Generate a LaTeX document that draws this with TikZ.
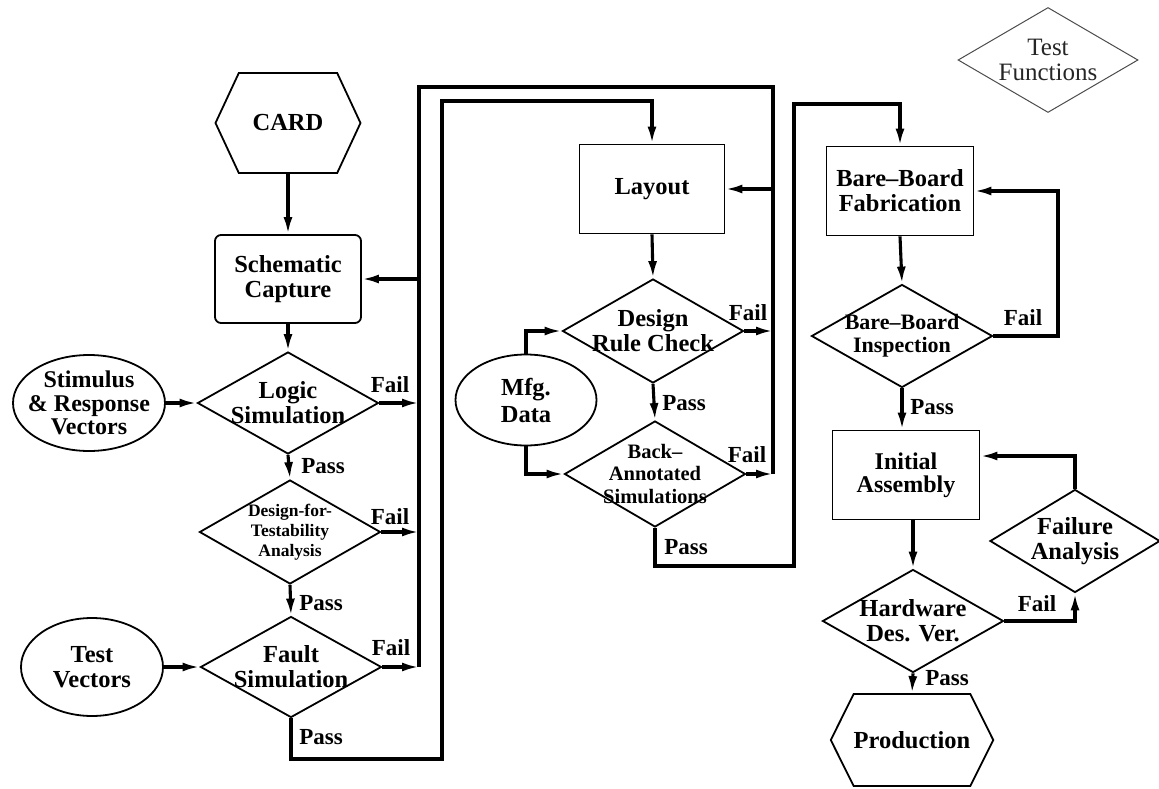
\documentclass[tikz,border=0pt]{standalone}
\usepackage{fontspec}
\setmainfont{Liberation Serif}
\usetikzlibrary{arrows.meta,shapes.geometric,shapes.symbols}

\newcommand\mainsz{\fontsize{24.5}{25}\selectfont\bfseries}
\newcommand\labsz{\fontsize{23}{23}\selectfont\bfseries}

\tikzset{
  shp/.style={draw, line width=1.8pt, inner sep=0pt},
  intext/.style={label={[font=\mainsz, align=center]center:#1}},
  dia/.style={shp, diamond},
  ell/.style={shp, ellipse},
  rbox/.style={shp, rectangle, align=center, font=\mainsz},
  sig/.style={shp, signal, signal to=east and west, font=\mainsz},
  conn/.style={line width=3.1pt, -{Latex[length=17pt,width=9pt]}},
  wire/.style={line width=3.1pt},
  lab/.style={font=\labsz, inner sep=0pt}
}

\begin{document}
\begin{tikzpicture}[x=1pt, y=-1pt]
\useasboundingbox (0,0) rectangle (1159,789);

% ---- schematic design column ----
\node[sig, signal pointer angle=130, minimum width=145pt, minimum height=100pt] (card) at (288,123) {CARD};
\node[rbox, rounded corners=6pt, minimum width=146pt, minimum height=88pt] (sch) at (288,279) {Schematic\\Capture};
\node[dia, minimum width=181pt, minimum height=102pt, intext={Logic\\Simulation}] (logic) at (288,403) {};
\node[dia, minimum width=181pt, minimum height=104pt,
      label={[font=\fontsize{17.5}{20}\selectfont\bfseries, align=center]center:Design-for-\\Testability\\Analysis}] (dft) at (290,532) {};
\node[dia, minimum width=181pt, minimum height=101pt, intext={Fault\\Simulation}] (fault) at (291,667) {};
\node[ell, minimum width=152pt, minimum height=96pt,
      label={[font=\fontsize{24}{23.5}\selectfont\bfseries, align=center]center:Stimulus\\\& Response\\Vectors}] (stim) at (89,403) {};
\node[ell, minimum width=142pt, minimum height=98pt, intext={Test\\Vectors}] (tvec) at (92,667) {};

% ---- layout column ----
\node[rbox, minimum width=145pt, minimum height=89pt] (layout) at (652,189) {Layout};
\node[dia, minimum width=181pt, minimum height=104pt, intext={Design\\Rule Check}] (drc) at (653,331) {};
\node[dia, minimum width=181pt, minimum height=106pt,
      label={[font=\fontsize{20.5}{22.5}\selectfont\bfseries, align=center]center:Back--\\Annotated\\Simulations}] (ba) at (655,474) {};
\node[ell, minimum width=141pt, minimum height=91pt,
      label={[font=\fontsize{24.5}{27}\selectfont\bfseries, align=center]center:Mfg.\\Data}] (mfg) at (526,400) {};

% ---- board column ----
\node[rbox, minimum width=147pt, minimum height=89pt] (bbf) at (900,191) {Bare--Board\\Fabrication};
\node[dia, minimum width=181pt, minimum height=103pt,
      label={[font=\fontsize{22}{23}\selectfont\bfseries, align=center]center:Bare--Board\\Inspection}] (bbi) at (902,336) {};
\node[rbox, minimum width=147pt, minimum height=89pt, font=\fontsize{24}{23}\selectfont\bfseries] (ia) at (906,475) {Initial\\Assembly};
\node[dia, minimum width=181pt, minimum height=103pt, intext={Hardware\\Des. Ver.}] (hdv) at (913,621) {};
\node[dia, minimum width=170pt, minimum height=103pt, intext={Failure\\Analysis}] (fa) at (1075,541) {};
\node[sig, signal pointer angle=127, minimum width=146pt, minimum height=92pt] (prod) at (912,740) {Production};

% ---- legend ----
\node[dia, draw=black!70, line width=1pt, minimum width=180pt, minimum height=105pt,
      label={[font=\fontsize{25}{25}\selectfont, text=black!85, align=center]center:Test\\Functions}] (tf) at (1048,60) {};

% ---- bus and loop corners ----
\coordinate (busW) at (419,87);
\coordinate (busE) at (773,87);
\coordinate (p1) at (442,759);
\coordinate (p2) at (442,101);
\coordinate (q1) at (794,566);
\coordinate (q2) at (794,104);
\coordinate (r1) at (1058,0);
\coordinate (s1) at (0,456);

% ---- schematic flow ----
\draw[conn] (card.south) -- (sch.north);
\draw[conn] (sch.south) -- (logic.north);
\draw[conn] (stim.east) -- (logic.west);
\draw[conn] (logic.south) -- (dft.north);
\draw[conn] (dft.south) -- (fault.north);
\draw[conn] (tvec.east) -- (fault.west);
\draw[conn] (logic.east) -- (logic.east -| busW);
\draw[conn] (dft.east) -- (dft.east -| busW);
\draw[conn] (fault.east) -- (fault.east -| busW);

% fail bus back to schematic capture and layout
\draw[wire] (fault.east -| busW) -- (busW) -- (busE) -- (ba.east -| busE);
\draw[conn] (sch.east -| busW) -- (sch.east);
\draw[conn] (layout.east -| busE) -- (layout.east);

% fault simulation pass to layout
\draw[conn] (fault.south) -- (fault.south |- p1) -- (p1) -- (p2) -- (p2 -| layout.north) -- (layout.north);

% ---- layout flow ----
\draw[conn] (layout.south) -- (drc.north);
\draw[conn] (drc.south) -- (ba.north);
\draw[conn] (mfg.north) -- (mfg.north |- drc.west) -- (drc.west);
\draw[conn] (mfg.south) -- (mfg.south |- ba.west) -- (ba.west);
\draw[conn] (drc.east) -- (drc.east -| busE);
\draw[conn] (ba.east) -- (ba.east -| busE);
\draw[conn] (ba.south) -- (ba.south |- q1) -- (q1) -- (q2) -- (q2 -| bbf.north) -- (bbf.north);

% ---- board flow ----
\draw[conn] (bbf.south) -- (bbi.north);
\draw[conn] (bbi.east) -- (bbi.east -| r1) -- (r1 |- bbf.east) -- (bbf.east);
\draw[conn] (bbi.south) -- (bbi.south |- ia.north);
\draw[conn] (hdv.north |- ia.south) -- (hdv.north);
\draw[conn] (hdv.east) -- (hdv.east -| fa.south) -- (fa.south);
\draw[conn] (fa.north) -- (fa.north |- s1) -- (ia.east |- s1);
\draw[conn] (hdv.south) -- (prod.north);

% ---- pass / fail labels ----
\node[lab] (lf1) at (390,385) {Fail};
\node[lab] (lp1) at (323,466) {Pass};
\node[lab] (lf2) at (390,517) {Fail};
\node[lab] (lp2) at (321,603) {Pass};
\node[lab] (lf3) at (391,648) {Fail};
\node[lab] (lp3) at (321,737) {Pass};
\node[lab] (lf4) at (748,313) {Fail};
\node[lab] (lp4) at (684,403) {Pass};
\node[lab] (lf5) at (747,455) {Fail};
\node[lab] (lp5) at (686,547) {Pass};
\node[lab] (lf6) at (1023,318) {Fail};
\node[lab] (lp6) at (932,407) {Pass};
\node[lab] (lf7) at (1037,604) {Fail};
\node[lab] (lp7) at (947,678) {Pass};
\end{tikzpicture}
\end{document}
